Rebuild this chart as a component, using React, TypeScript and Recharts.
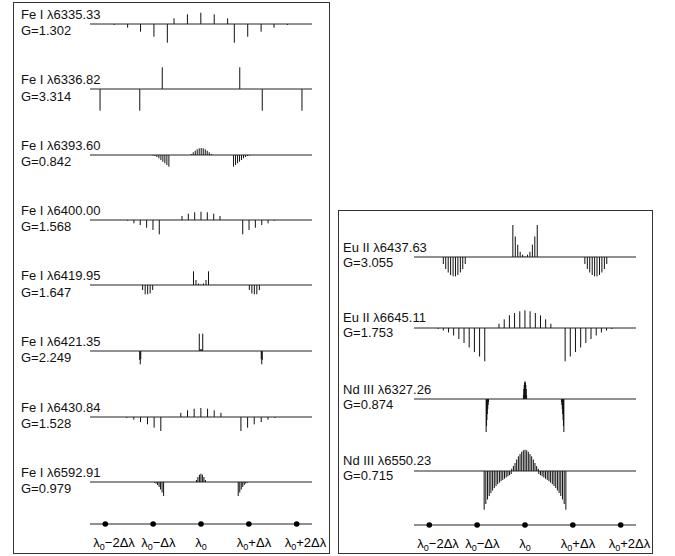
import React from "react";
import {
  BarChart, Bar, ScatterChart, Scatter, XAxis, YAxis, ReferenceLine,
} from "recharts";

// positions in units of Δλ, strengths: + = π (up), − = σ (down)
const fe6335Pos = [-1.81, -1.53, -1.26, -0.98, -0.7, -0.56, -0.28, 0, 0.28, 0.56, 0.7, 0.98, 1.26, 1.53, 1.81];
const fe6335Str = [-1, -3.7, -7.7, -12.7, -18.7, 5.7, 9.7, 11.3, 9.7, 5.7, -18.7, -12.7, -7.7, -3.7, -1];

const fe6336Pos = [-2.11, -1.28, -0.81, 0.81, 1.28, 2.11];
const fe6336Str = [-21.7, -21.7, 21.7, 21.7, -21.7, -21.7];

const fe6393Pos = [
  -1.011, -0.969, -0.927, -0.885, -0.843, -0.801, -0.76, -0.718, -0.676,
  -0.209, -0.167, -0.125, -0.084, -0.042, 0, 0.042, 0.084, 0.125, 0.167, 0.209,
  0.676, 0.718, 0.76, 0.801, 0.843, 0.885, 0.927, 0.969, 1.011,
];
const fe6393Str = [
  -0.5, -1, -2, -3.3, -5, -6.7, -8.3, -10, -11.7,
  1, 2.7, 4.3, 5.7, 6.7, 7, 6.7, 5.7, 4.3, 2.7, 1,
  -11.7, -10, -8.3, -6.7, -5, -3.3, -2, -1, -0.5,
];

const fe6400Pos = [
  -1.533, -1.402, -1.27, -1.136, -1.004, -0.872,
  -0.397, -0.265, -0.132, 0, 0.132, 0.265, 0.397,
  0.872, 1.004, 1.136, 1.27, 1.402, 1.533,
];
const fe6400Str = [
  -0.7, -3.3, -5, -7.7, -10, -14.3,
  4, 6.3, 7.7, 8.3, 7.7, 6.3, 4,
  -14.3, -10, -7.7, -5, -3.3, -0.7,
];

const fe6419Pos = [
  -1.22, -1.167, -1.115, -1.063, -1.01,
  -0.157, -0.105, -0.052, 0, 0.052, 0.105, 0.157,
  1.01, 1.063, 1.115, 1.167, 1.22,
];
const fe6419Str = [
  -5, -9.3, -9.3, -8.5, -5,
  13.7, 5, 1.5, 0.5, 1.5, 5, 13.7,
  -5, -8.5, -9.3, -9.3, -5,
];

const fe6421Pos = [-1.28, -1.27, -1.259, -0.036, -0.018, 0, 0.018, 0.036, 1.259, 1.27, 1.28];
const fe6421Str = [-9, -13.3, -8, 17.3, 2, 1, 2, 17.3, -8, -13.3, -9];

const fe6430Pos = [
  -1.548, -1.402, -1.262, -1.115, -0.977, -0.837,
  -0.419, -0.279, -0.14, 0, 0.14, 0.279, 0.419,
  0.837, 0.977, 1.115, 1.262, 1.402, 1.548,
];
const fe6430Str = [
  -1, -2.7, -5, -7.3, -10.7, -14,
  4.2, 6.7, 8.3, 9, 8.3, 6.7, 4.2,
  -14, -10.7, -7.3, -5, -2.7, -1,
];

const fe6592Pos = [
  -0.968, -0.937, -0.906, -0.874, -0.843, -0.812, -0.78,
  -0.094, -0.063, -0.031, 0, 0.031, 0.063, 0.094,
  0.78, 0.812, 0.843, 0.874, 0.906, 0.937, 0.968,
];
const fe6592Str = [
  -0.7, -1.5, -3, -5, -7.5, -10.5, -14,
  2, 5, 7.3, 8.3, 7.3, 5, 2,
  -14, -10.5, -7.5, -5, -3, -1.5, -0.7,
];

const eu6437Pos = [
  -1.708, -1.658, -1.606, -1.556, -1.504, -1.454, -1.404, -1.352, -1.302, -1.25,
  -0.255, -0.204, -0.153, -0.102, -0.051, 0, 0.051, 0.102, 0.153, 0.204, 0.255,
  1.25, 1.302, 1.352, 1.404, 1.454, 1.504, 1.556, 1.606, 1.658, 1.708,
];
const eu6437Str = [
  -7, -12, -15.5, -18, -19.3, -19.3, -18, -15.5, -12, -7,
  32, 20.5, 12.3, 5.2, 2.3, 0.7, 2.3, 5.2, 12.3, 20.5, 32,
  -7, -12, -15.5, -18, -19.3, -19.3, -18, -15.5, -12, -7,
];

const eu6645Pos = [
  -1.815, -1.706, -1.598, -1.49, -1.381, -1.273, -1.165, -1.056, -0.948, -0.84,
  -0.542, -0.433, -0.325, -0.217, -0.108, 0, 0.108, 0.217, 0.325, 0.433, 0.542,
  0.84, 0.948, 1.056, 1.165, 1.273, 1.381, 1.49, 1.598, 1.706, 1.815,
];
const eu6645Str = [
  -1, -2.5, -4.5, -7.5, -11, -15, -19.5, -24, -28.5, -33.3,
  4.3, 8.7, 12.7, 15, 16.7, 17.7, 16.7, 15, 12.7, 8.7, 4.3,
  -33.3, -28.5, -24, -19.5, -15, -11, -7.5, -4.5, -2.5, -1,
];

const nd6327Pos = [
  -0.8125, -0.804, -0.796, -0.7875, -0.779, -0.771, -0.7625,
  -0.033, -0.025, -0.017, -0.008, 0, 0.008, 0.017, 0.025, 0.033,
  0.7625, 0.771, 0.779, 0.7875, 0.796, 0.804, 0.8125,
];
const nd6327Str = [
  -33, -27, -21, -15, -10, -6, -3,
  4, 10, 14, 16.5, 17.7, 16.5, 14, 10, 4,
  -3, -6, -10, -15, -21, -27, -33,
];

const nd6550Pos = [
  -0.854, -0.819, -0.783, -0.748, -0.713, -0.677, -0.642, -0.606, -0.571,
  -0.535, -0.5, -0.465, -0.429, -0.394, -0.358, -0.323, -0.288,
  -0.278, -0.243, -0.208, -0.174, -0.139, -0.104, -0.069, -0.035, 0,
  0.035, 0.069, 0.104, 0.139, 0.174, 0.208, 0.243, 0.278,
  0.288, 0.323, 0.358, 0.394, 0.429, 0.465, 0.5, 0.535,
  0.571, 0.606, 0.642, 0.677, 0.713, 0.748, 0.783, 0.819, 0.854,
];
const nd6550Str = [
  -38.7, -33, -28.5, -25, -22, -19.5, -17, -15, -13.2,
  -11.6, -10.2, -8.9, -7.7, -6.5, -5.3, -4.2, -3,
  2.3, 5, 8, 11.5, 14.7, 17, 19.3, 20.7, 21.3,
  20.7, 19.3, 17, 14.7, 11.5, 8, 5, 2.3,
  -3, -4.2, -5.3, -6.5, -7.7, -8.9, -10.2, -11.6,
  -13.2, -15, -17, -19.5, -22, -25, -28.5, -33, -38.7,
];

const leftNames = ["Fe I λ6335.33", "Fe I λ6336.82", "Fe I λ6393.60", "Fe I λ6400.00", "Fe I λ6419.95", "Fe I λ6421.35", "Fe I λ6430.84", "Fe I λ6592.91"];
const leftG = ["G=1.302", "G=3.314", "G=0.842", "G=1.568", "G=1.647", "G=2.249", "G=1.528", "G=0.979"];
const leftPos = [fe6335Pos, fe6336Pos, fe6393Pos, fe6400Pos, fe6419Pos, fe6421Pos, fe6430Pos, fe6592Pos];
const leftStr = [fe6335Str, fe6336Str, fe6393Str, fe6400Str, fe6419Str, fe6421Str, fe6430Str, fe6592Str];

const rightNames = ["Eu II λ6437.63", "Eu II λ6645.11", "Nd III λ6327.26", "Nd III λ6550.23"];
const rightG = ["G=3.055", "G=1.753", "G=0.874", "G=0.715"];
const rightPos = [eu6437Pos, eu6645Pos, nd6327Pos, nd6550Pos];
const rightStr = [eu6437Str, eu6645Str, nd6327Str, nd6550Str];

const tickValues = [-2, -1, 0, 1, 2];
const tickSuffix = ["−2Δλ", "−Δλ", "", "+Δλ", "+2Δλ"];

// layout
const FONT = "'Liberation Sans', Arial, Helvetica, sans-serif";
const DOMAIN: [number, number] = [-2.32, 2.32];
const PW = 222;
const HALF = 45;
const leftBase = [24, 89.3, 154.7, 220, 285.3, 351, 416.7, 482];
const rightBase = [257.3, 327.7, 399.3, 470.7];

const Stick = (props: any) => {
  const { x, y, width, height } = props;
  if (!height) return null;
  const top = height < 0 ? y + height : y;
  return <rect x={x + width / 2 - 0.5} y={top} width={1} height={Math.abs(height)} fill="#111" />;
};

function Pattern({ pos, str, left, base }: any) {
  const data = pos.map((x: number, i: number) => ({ x, v: str[i] }));
  return (
    <div style={{ position: "absolute", left, top: base - HALF }}>
      <BarChart width={PW} height={HALF * 2} data={data} margin={{ top: 0, right: 0, bottom: 0, left: 0 }}>
        <XAxis type="number" dataKey="x" domain={DOMAIN} hide allowDataOverflow />
        <YAxis type="number" domain={[-HALF, HALF]} hide allowDataOverflow />
        <ReferenceLine y={0} stroke="#222" strokeWidth={1} />
        <Bar dataKey="v" isAnimationActive={false} shape={<Stick />} />
      </BarChart>
    </div>
  );
}

const LambdaTick = ({ x, y, payload }: any) => {
  const i = tickValues.indexOf(payload.value);
  const centred = !tickSuffix[i];
  return (
    <text x={centred ? x : x - 12} y={y + 5} textAnchor={centred ? "middle" : "start"}
      fontSize={13} fill="#000" fontFamily={FONT}>
      <tspan>λ</tspan>
      <tspan fontSize={9} dy={3}>0</tspan>
      {tickSuffix[i] ? <tspan dy={-3}>{tickSuffix[i]}</tspan> : null}
    </text>
  );
};

function AxisRow({ left, base }: any) {
  const data = tickValues.map((x) => ({ x, y: 0 }));
  return (
    <div style={{ position: "absolute", left: left - 30, top: base - 10 }}>
      <ScatterChart width={PW + 60} height={50} margin={{ top: 0, right: 30, bottom: 0, left: 30 }}>
        <XAxis type="number" dataKey="x" domain={DOMAIN} ticks={tickValues} interval={0}
          axisLine={false} tickLine={false} height={30} tick={<LambdaTick />} allowDataOverflow />
        <YAxis type="number" dataKey="y" domain={[-1, 1]} hide />
        <ReferenceLine y={0} stroke="#222" />
        <Scatter data={data} isAnimationActive={false}
          shape={(p: any) => <circle cx={p.cx} cy={p.cy} r={2.8} fill="#000" />} />
      </ScatterChart>
    </div>
  );
}

function Label({ name, g, left, top1, top2, size }: any) {
  const s: React.CSSProperties = { position: "absolute", left, fontSize: size, lineHeight: `${size}px`, fontFamily: FONT, whiteSpace: "nowrap", color: "#111" };
  return (
    <>
      <div style={{ ...s, top: top1 }}>{name}</div>
      <div style={{ ...s, top: top2 }}>{g}</div>
    </>
  );
}

export default function App() {
  const leftX = 90;
  const rightX = 414.3;
  return (
    <div style={{ position: "absolute", left: 0, top: 0, width: 675, height: 556, background: "#fff", overflow: "hidden" }}>
      <div style={{ position: "absolute", left: 13, top: 2, width: 315, height: 550, border: "1px solid #333" }} />
      <div style={{ position: "absolute", left: 338, top: 210, width: 313, height: 342, border: "1px solid #333" }} />

      {leftNames.map((n, i) => (
        <React.Fragment key={n}>
          <Label name={n} g={leftG[i]} left={21} top1={leftBase[i] - 5 - 11} top2={leftBase[i] + 11.3 - 11} size={13} />
          <Pattern pos={leftPos[i]} str={leftStr[i]} left={leftX} base={leftBase[i]} />
        </React.Fragment>
      ))}
      <AxisRow left={leftX} base={524} />

      {rightNames.map((n, i) => (
        <React.Fragment key={n}>
          <Label name={n} g={rightG[i]} left={343} top1={rightBase[i] - 5.5 - 11} top2={rightBase[i] + 9.5 - 11} size={13} />
          <Pattern pos={rightPos[i]} str={rightStr[i]} left={rightX} base={rightBase[i]} />
        </React.Fragment>
      ))}
      <AxisRow left={rightX} base={525} />
    </div>
  );
}
